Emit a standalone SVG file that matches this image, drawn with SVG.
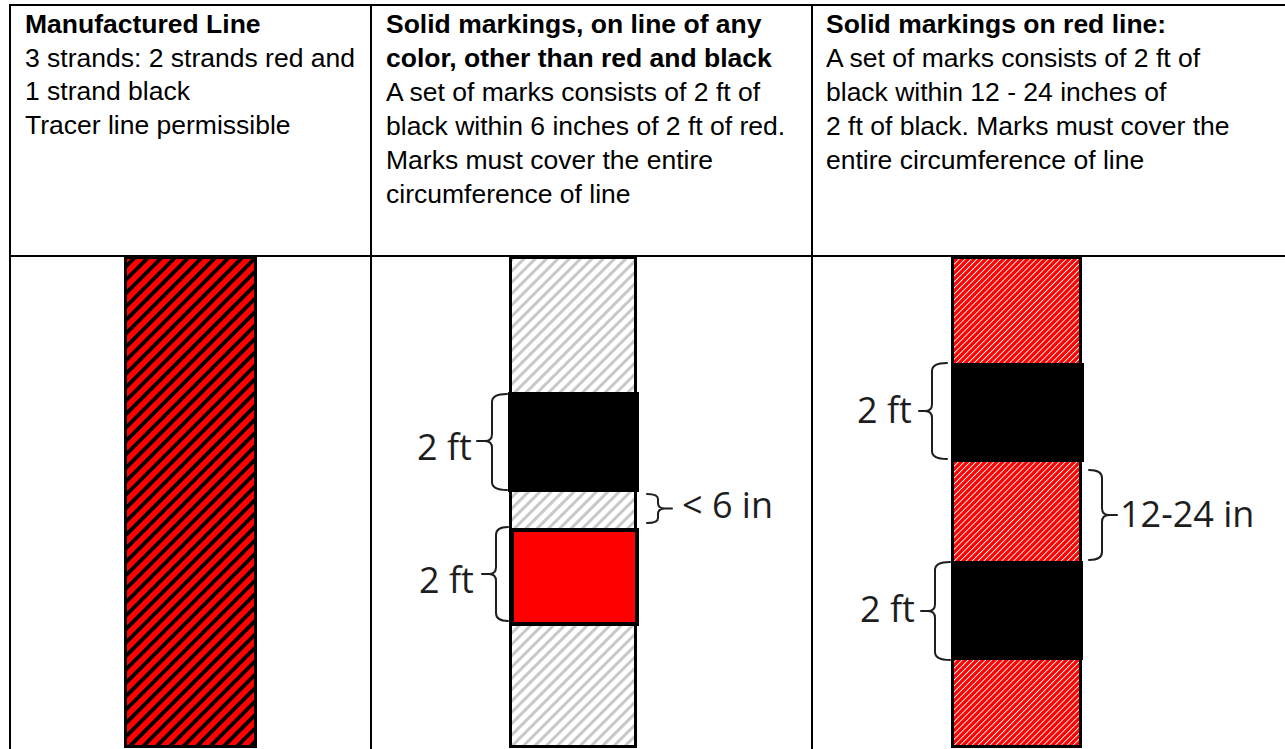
<svg xmlns="http://www.w3.org/2000/svg" width="1285" height="749" viewBox="0 0 1285 749">
<style>
.hd{font-family:"Liberation Sans",Arial,sans-serif;font-size:26.5px;fill:#000}
.b{font-weight:bold}
.lbl{font-family:"Open Sans","Noto Sans",sans-serif;font-size:36px;fill:#1e1e1e}
.grid{stroke:#000;stroke-width:2;fill:none}
.strip{stroke:#000;stroke-width:3}
.brace{fill:none;stroke:#1e1e1e;stroke-width:2;stroke-linejoin:round;stroke-linecap:round}
</style>
<defs>
<pattern id="redBlack" patternUnits="userSpaceOnUse" width="9.5" height="9.5" patternTransform="rotate(45)">
<rect width="9.5" height="9.5" fill="#ff0000"/><rect width="3.8" height="9.5" fill="#000"/>
</pattern>
<pattern id="grayHatch" patternUnits="userSpaceOnUse" width="8" height="8" patternTransform="rotate(45)">
<rect width="8" height="8" fill="#fff"/><rect width="3" height="8" fill="#c8c8c8"/>
</pattern>
<pattern id="redHatch" patternUnits="userSpaceOnUse" width="4.2" height="4.2" patternTransform="rotate(45)">
<rect width="4.2" height="4.2" fill="#ff0000"/><rect width="0.9" height="4.2" fill="#fff"/>
</pattern>
</defs>
<rect width="1285" height="749" fill="#fff"/>
<g id="table" class="grid">
<line x1="10" y1="5" x2="1285" y2="5"/>
<line x1="10" y1="256" x2="1285" y2="256"/>
<line x1="10" y1="4" x2="10" y2="749"/>
<line x1="371" y1="4" x2="371" y2="749"/>
<line x1="812" y1="4" x2="812" y2="749"/>
</g>
<g id="header-manufactured" class="hd">
<text x="25" y="33" class="b">Manufactured Line</text>
<text x="25" y="67">3 strands: 2 strands red and</text>
<text x="25" y="100">1 strand black</text>
<text x="25" y="134">Tracer line permissible</text>
</g>
<g id="header-solid-other" class="hd">
<text x="386" y="33" class="b">Solid markings, on line of any</text>
<text x="386" y="67" class="b">color, other than red and black</text>
<text x="386" y="101">A set of marks consists of 2 ft of</text>
<text x="386" y="135">black within 6 inches of 2 ft of red.</text>
<text x="386" y="169">Marks must cover the entire</text>
<text x="386" y="203">circumference of line</text>
</g>
<g id="header-solid-red" class="hd">
<text x="826" y="33" class="b">Solid markings on red line:</text>
<text x="826" y="67">A set of marks consists of 2 ft of</text>
<text x="826" y="101">black within 12 - 24 inches of</text>
<text x="826" y="135">2 ft of black. Marks must cover the</text>
<text x="826" y="169">entire circumference of line</text>
</g>
<g id="strip-manufactured">
<rect x="125.5" y="257.5" width="130" height="489" fill="url(#redBlack)" class="strip"/>
</g>
<g id="strip-solid-other">
<rect x="510.5" y="257.5" width="125" height="489" fill="url(#grayHatch)" class="strip"/>
<rect x="508" y="392" width="131" height="100" fill="#000"/>
<rect x="512" y="530" width="125" height="94" fill="#ff0000" stroke="#000" stroke-width="4"/>
</g>
<g id="strip-solid-red">
<rect x="952.5" y="257.5" width="128" height="489" fill="url(#redHatch)" class="strip"/>
<rect x="951" y="363" width="133" height="99" fill="#000"/>
<rect x="951" y="561" width="132" height="99" fill="#000"/>
</g>
<g id="braces" class="brace">
<path d="M507,394 Q492,394 492,402 L492,434 Q492,441 485,441 L477,441 M485,441 Q492,441 492,448 L492,482 Q492,490 507,490"/>
<path d="M508,527 Q496,527 496,535 L496,567 Q496,574 489,574 L482,574 M489,574 Q496,574 496,581 L496,613 Q496,621 508,621"/>
<path d="M647,494 Q658,494 658,499 L658,503 Q658,508.5 665,508.5 L672,508.5 M665,508.5 Q658,508.5 658,514 L658,518 Q658,523 647,523"/>
<path d="M947,363 Q932,363 932,371 L932,404 Q932,411 925,411 L919,411 M925,411 Q932,411 932,418 L932,451 Q932,459 947,459"/>
<path d="M1089,470 Q1102,470 1102,478 L1102,508 Q1102,515 1109,515 L1117,515 M1109,515 Q1102,515 1102,522 L1102,552 Q1102,560 1089,560"/>
<path d="M950,562 Q935,562 935,570 L935,604 Q935,611 928,611 L921,611 M928,611 Q935,611 935,618 L935,652 Q935,660 950,660"/>
</g>
<g id="labels" class="lbl">
<text x="417" y="460">2 ft</text>
<text x="419" y="593">2 ft</text>
<text x="682" y="518">&lt; 6 in</text>
<text x="857" y="423">2 ft</text>
<text x="1120" y="527">12-24 in</text>
<text x="860" y="622">2 ft</text>
</g>
</svg>
